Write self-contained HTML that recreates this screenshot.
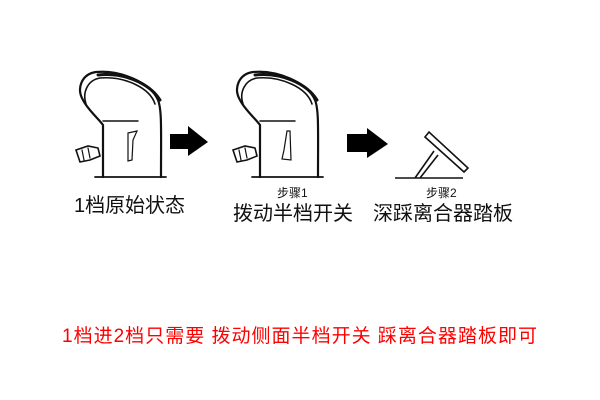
<!DOCTYPE html>
<html><head><meta charset="utf-8"><style>
html,body{margin:0;padding:0;background:#fff;}
svg{display:block;}
text{font-family:"Liberation Sans","Noto Sans CJK SC",sans-serif;}
</style></head><body>
<svg width="600" height="400" viewBox="0 0 600 400" xmlns="http://www.w3.org/2000/svg">
<defs>
<g id="seat" fill="none" stroke="#111" stroke-linecap="round">
  <path d="M103,177 L103,125 C98,118 88,110 83,100 C76,88 82,74 96,72 C120,70 150,82 158,100 C162,110 161,130 161,177" stroke-width="2.2"/>
  <path d="M86,104 C82,92 88,80 100,78 C125,76 150,88 155,104" stroke-width="1.6"/>
  <path d="M98,75 C125,72 150,84 160,100" stroke-width="3"/>
  <path d="M103,121 L138,121" stroke-width="1.4"/>
  <path d="M95,177 L166,177" stroke-width="1.8"/>
  <path d="M76,150 L88,146 L98,148 L100,156 L90,160 L80,162 Z" stroke-width="1.6"/>
  <path d="M82,150 L84,160 M88,148 L90,158" stroke-width="1.2"/>
</g>
</defs>
<use href="#seat"/>
<path d="M128,133 L137,131 L133,140 L132,160 L128,161 Z" fill="none" stroke="#111" stroke-width="1.2"/>
<g transform="translate(157,0)"><use href="#seat"/></g>
<path d="M287,131 L290,131 L291,160 L282,159 L284,150 Z" fill="none" stroke="#111" stroke-width="1.2"/>
<polygon points="170,134 188,134 188,126 208,142 188,156 188,149 170,149" fill="#000"/>
<polygon points="347,134 367,134 367,128 388,144 367,158 367,152 347,152" fill="#000"/>
<g fill="none" stroke="#111" stroke-width="1.6">
  <path d="M395,178 L463,178"/>
  <path d="M425,137 L429,132 L468,168 L464,172 Z"/>
  <path d="M415,178 L434,151 M420,178 L438,155"/>
</g>
<text x="74" y="212" font-size="20" fill="#111" textLength="111">1档原始状态</text>
<text x="277" y="197" font-size="12" fill="#111">步骤1</text>
<text x="233" y="220" font-size="20" fill="#111" textLength="120">拨动半档开关</text>
<text x="426" y="197" font-size="12" fill="#111">步骤2</text>
<text x="373" y="220" font-size="20" fill="#111" textLength="140">深踩离合器踏板</text>
<text x="62" y="342" font-size="19" fill="#f00" textLength="475">1档进2档只需要 拨动侧面半档开关 踩离合器踏板即可</text>
</svg>
</body></html>
